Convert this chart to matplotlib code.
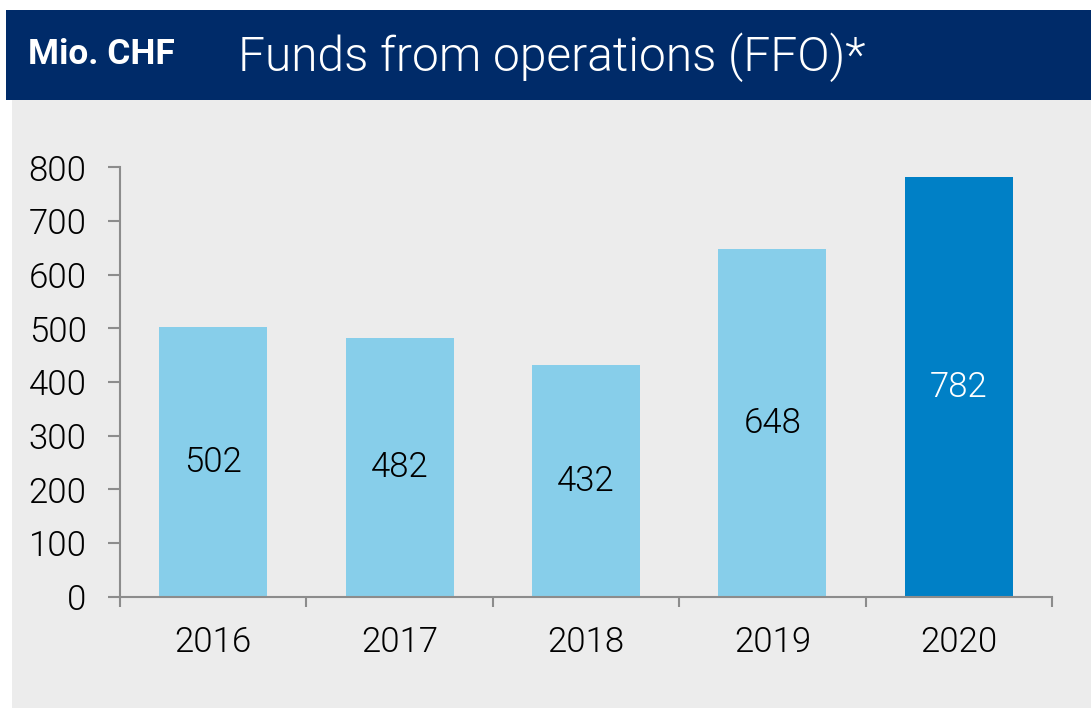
import matplotlib.pyplot as plt
from matplotlib.patches import Rectangle

years = ["2016", "2017", "2018", "2019", "2020"]
ffo = [502, 482, 432, 648, 782]
bar_colors = ["#87ceea", "#87ceea", "#87ceea", "#87ceea", "#0080c6"]
label_colors = ["black", "black", "black", "black", "white"]

NAVY = "#002b69"
GREY_BG = "#ececec"
AXIS = "#8c8c8c"

plt.rcParams["font.family"] = ["Roboto", "DejaVu Sans"]
plt.rcParams["font.weight"] = 300

W, H = 1091, 709
fig = plt.figure(figsize=(W / 100, H / 100), dpi=100)
fig.patch.set_facecolor("white")

# header band and grey panel
fig.add_artist(Rectangle((6 / W, 1 - 100 / H), 1, 90 / H, transform=fig.transFigure,
                         facecolor=NAVY, edgecolor="none", zorder=0))
fig.add_artist(Rectangle((12 / W, 1 / H), 1, 608 / H, transform=fig.transFigure,
                         facecolor=GREY_BG, edgecolor="none", zorder=0))
fig.text(28 / W, 1 - 54 / H, "Mio. CHF", color="white", fontsize=25.5, fontweight="bold",
         va="center", ha="left")
fig.text(238 / W, 1 - 57 / H, "Funds from operations (FFO)*", color="white", fontsize=34.5,
         va="center", ha="left")

ax = fig.add_axes([120 / W, (H - 596.7) / H, (1052 - 120) / W, (596.7 - 167.3) / H])
ax.set_facecolor("none")
x = range(len(years))
bars = ax.bar(x, ffo, width=0.58, color=bar_colors, zorder=2)
for b, v, c in zip(bars, ffo, label_colors):
    ax.text(b.get_x() + b.get_width() / 2, v / 2, str(v), ha="center", va="center",
            fontsize=25, color=c, zorder=3)

ax.set_xlim(-0.5, len(years) - 0.5)
ax.set_ylim(0, 800)
ax.set_yticks(range(0, 801, 100))
ax.set_xticks(list(x))
ax.set_xticklabels(years)
ax.set_xticks([i - 0.5 for i in range(len(years) + 1)], minor=True)
ax.tick_params(axis="x", which="major", length=0, pad=21, labelsize=25)
ax.tick_params(axis="x", which="minor", length=7.5, width=1.5, color=AXIS, direction="out")
ax.tick_params(axis="y", length=9, width=1.5, color=AXIS, pad=15, labelsize=25)
for s in ["top", "right"]:
    ax.spines[s].set_visible(False)
for s in ["left", "bottom"]:
    ax.spines[s].set_color(AXIS)
    ax.spines[s].set_linewidth(1.5)

fig.savefig("out.png", dpi=100)
